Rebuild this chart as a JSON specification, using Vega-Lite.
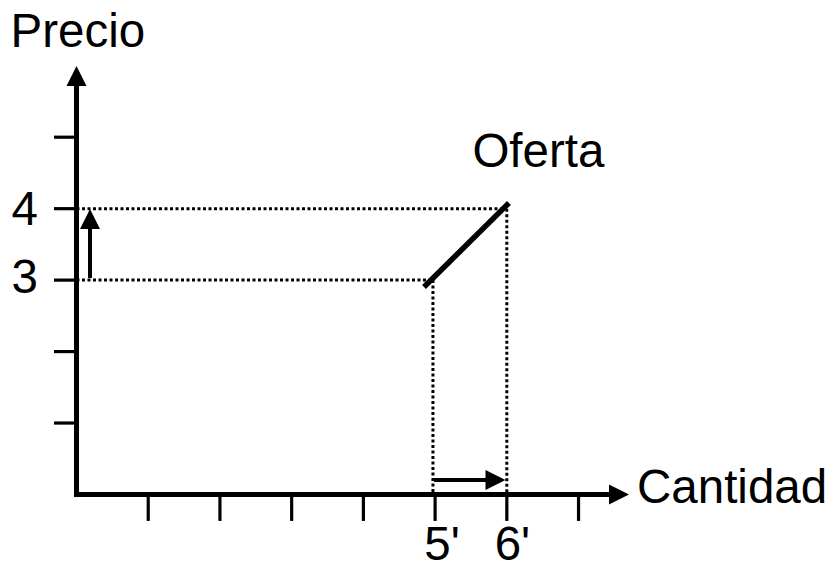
{
  "$schema": "https://vega.github.io/schema/vega-lite/v6.json",
  "width": 837,
  "height": 565,
  "padding": 0,
  "autosize": {"type": "none"},
  "background": "white",
  "config": {"view": {"stroke": null}},
  "datasets": {
    "dotted": [
      {"x": 0, "y": 4, "x2": 6.0, "y2": 4},
      {"x": 0, "y": 3, "x2": 4.97, "y2": 3},
      {"x": 4.97, "y": 3, "x2": 4.97, "y2": 0},
      {"x": 6.0, "y": 4, "x2": 6.0, "y2": 0}
    ],
    "supply": [{"x": 4.845, "y": 2.904, "x2": 6.03, "y2": 4.079}],
    "axes": [
      {"x": 0, "y": 0, "x2": 7.425, "y2": 0},
      {"x": 0, "y": 0, "x2": 0, "y2": 5.716}
    ],
    "ticks": [
      {"x": 1, "y": 0, "x2": 1, "y2": -0.37},
      {"x": 2, "y": 0, "x2": 2, "y2": -0.37},
      {"x": 3, "y": 0, "x2": 3, "y2": -0.37},
      {"x": 4, "y": 0, "x2": 4, "y2": -0.37},
      {"x": 5, "y": 0, "x2": 5, "y2": -0.37},
      {"x": 6, "y": 0, "x2": 6, "y2": -0.37},
      {"x": 7, "y": 0, "x2": 7, "y2": -0.37},
      {"x": -0.314, "y": 1, "x2": 0, "y2": 1},
      {"x": -0.314, "y": 2, "x2": 0, "y2": 2},
      {"x": -0.314, "y": 3, "x2": 0, "y2": 3},
      {"x": -0.314, "y": 4, "x2": 0, "y2": 4},
      {"x": -0.314, "y": 5, "x2": 0, "y2": 5}
    ],
    "shafts": [
      {"x": 0.188, "y": 3.03, "x2": 0.188, "y2": 3.75},
      {"x": 4.985, "y": 0.203, "x2": 5.75, "y2": 0.203}
    ],
    "headsUp": [{"x": 0, "y": 5.856}, {"x": 0.188, "y": 3.855}],
    "headsRight": [{"x": 7.564, "y": 0}, {"x": 5.842, "y": 0.203}],
    "labelsLeft": [
      {"x": -0.92, "y": 6.262, "label": "Precio"},
      {"x": 5.52, "y": 4.583, "label": "Oferta"},
      {"x": 4.85, "y": -0.92, "label": "5'"},
      {"x": 5.83, "y": -0.92, "label": "6'"},
      {"x": 7.815, "y": -0.119, "label": "Cantidad"}
    ],
    "labelsRight": [
      {"x": -0.537, "y": 3.771, "label": "4"},
      {"x": -0.537, "y": 2.82, "label": "3"}
    ]
  },
  "encoding": {
    "x": {"field": "x", "type": "quantitative", "axis": null,
          "scale": {"domain": [-1.0666, 10.6037], "nice": false, "zero": false}},
    "y": {"field": "y", "type": "quantitative", "axis": null,
          "scale": {"domain": [-0.9866, 6.92], "nice": false, "zero": false}}
  },
  "layer": [
    {
      "data": {"name": "dotted"},
      "mark": {"type": "rule", "color": "black", "strokeWidth": 3, "strokeDash": [3, 2.5]},
      "encoding": {"x2": {"field": "x2"}, "y2": {"field": "y2"}}
    },
    {
      "data": {"name": "supply"},
      "mark": {"type": "rule", "color": "black", "strokeWidth": 5.5},
      "encoding": {"x2": {"field": "x2"}, "y2": {"field": "y2"}}
    },
    {
      "data": {"name": "axes"},
      "mark": {"type": "rule", "color": "black", "strokeWidth": 5, "strokeCap": "square"},
      "encoding": {"x2": {"field": "x2"}, "y2": {"field": "y2"}}
    },
    {
      "data": {"name": "ticks"},
      "mark": {"type": "rule", "color": "black", "strokeWidth": 3.2},
      "encoding": {"x2": {"field": "x2"}, "y2": {"field": "y2"}}
    },
    {
      "data": {"name": "shafts"},
      "mark": {"type": "rule", "color": "black", "strokeWidth": 4},
      "encoding": {"x2": {"field": "x2"}, "y2": {"field": "y2"}}
    },
    {
      "data": {"name": "headsUp"},
      "mark": {"type": "point", "shape": "M0,-1L-1,1L1,1Z", "size": 400, "filled": true, "color": "black", "opacity": 1, "strokeWidth": 0}
    },
    {
      "data": {"name": "headsRight"},
      "mark": {"type": "point", "shape": "M1,0L-1,-1L-1,1Z", "size": 400, "filled": true, "color": "black", "opacity": 1, "strokeWidth": 0}
    },
    {
      "data": {"name": "labelsLeft"},
      "mark": {"type": "text", "font": "Liberation Sans", "fontSize": 47.5, "align": "left", "baseline": "alphabetic", "color": "black"},
      "encoding": {"text": {"field": "label"}}
    },
    {
      "data": {"name": "labelsRight"},
      "mark": {"type": "text", "font": "Liberation Sans", "fontSize": 47.5, "align": "right", "baseline": "alphabetic", "color": "black"},
      "encoding": {"text": {"field": "label"}}
    }
  ]
}
